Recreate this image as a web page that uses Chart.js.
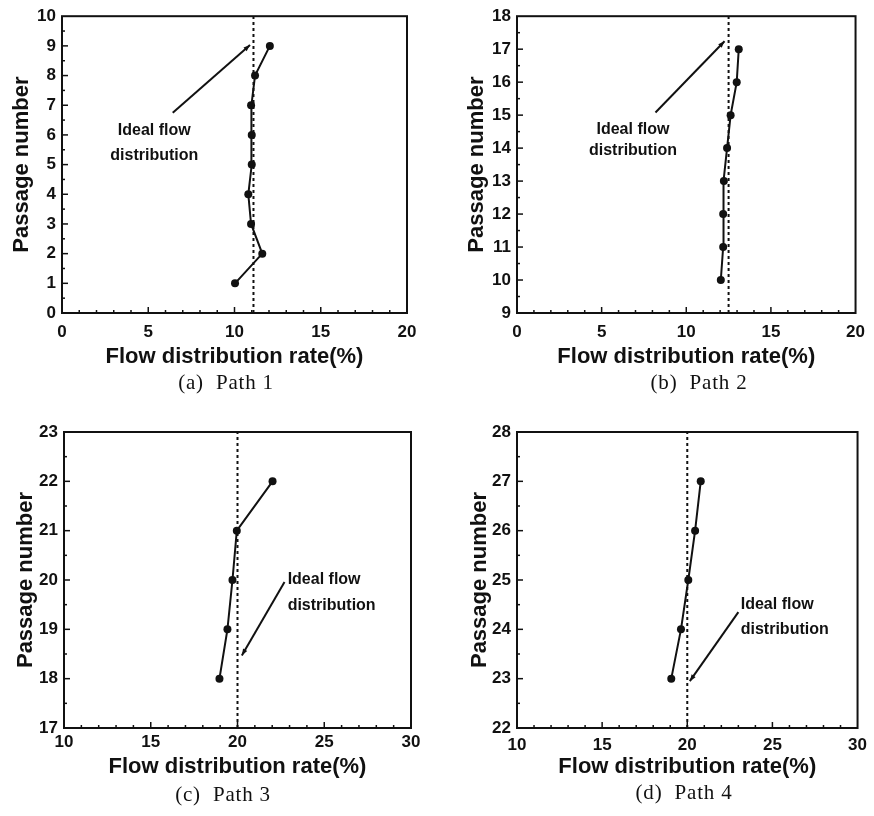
<!DOCTYPE html>
<html>
<head>
<meta charset="utf-8">
<script src="https://cdn.jsdelivr.net/npm/chart.js@4.4.0/dist/chart.umd.min.js"></script>
<style>
  body { margin:0; background:#fff; width:874px; height:816px; position:relative; overflow:hidden; }
  canvas { position:absolute; }
  .cap { position:absolute; transform:translate(-50%,-50%); white-space:pre; color:#111;
         font-family:'Liberation Serif','DejaVu Serif',serif; font-size:21px; letter-spacing:0.8px; }
</style>
</head>
<body>
<canvas id="cA" width="437" height="372" style="left:0;top:0"></canvas>
<canvas id="cB" width="419" height="372" style="left:455px;top:0"></canvas>
<canvas id="cC" width="437" height="367" style="left:0;top:415px"></canvas>
<canvas id="cD" width="419" height="367" style="left:455px;top:415px"></canvas>
<div class="cap" style="left:226px;top:382px">(a)  Path 1</div>
<div class="cap" style="left:699px;top:382px">(b)  Path 2</div>
<div class="cap" style="left:223px;top:794px">(c)  Path 3</div>
<div class="cap" style="left:684px;top:792px">(d)  Path 4</div>
<script>
// ========== DATA ==========
const passagesA = [1, 2, 3, 4, 5, 6, 7, 8, 9];
const ratesA    = [10.03, 11.61, 10.96, 10.8, 11.0, 11.0, 10.96, 11.19, 12.05];
const passagesB = [10, 11, 12, 13, 14, 15, 16, 17];
const ratesB    = [12.04, 12.18, 12.18, 12.22, 12.41, 12.62, 12.98, 13.1];
const passagesC = [18, 19, 20, 21, 22];
const ratesC    = [18.96, 19.42, 19.71, 19.96, 22.02];
const passagesD = [23, 24, 25, 26, 27];
const ratesD    = [19.06, 19.63, 20.06, 20.46, 20.79];
const idealRates = [11.1, 12.5, 20, 20];   // dashed "ideal flow distribution" line per path

// tick labels
const xTicksAB = [0, 5, 10, 15, 20];
const xTicksCD = [10, 15, 20, 25, 30];
const yTicksA = [0, 1, 2, 3, 4, 5, 6, 7, 8, 9, 10];
const yTicksB = [9, 10, 11, 12, 13, 14, 15, 16, 17, 18];
const yTicksC = [17, 18, 19, 20, 21, 22, 23];
const yTicksD = [22, 23, 24, 25, 26, 27, 28];

// callout arrows in data units: [tailX, tailY, headX, headY]
const arrowA = [6.42, 6.75, 10.9, 9.03];
const arrowB = [8.18, 15.08, 12.26, 17.24];
const arrowC = [22.71, 19.96, 20.25, 18.47];
const arrowD = [23.0, 24.35, 20.15, 22.95];

const LABEL_LINES = ['Ideal flow', 'distribution'];

// ========== STYLE ==========
const INK = '#111';
const SANS = '"Liberation Sans", Arial, sans-serif';

// frame, inward ticks, arrowhead and callout text
const decor = {
  id: 'decor',
  afterDatasetsDraw(chart, args, o) {
    const {ctx, chartArea: a, scales: {x, y}} = chart;
    ctx.save();
    ctx.strokeStyle = INK;
    ctx.lineWidth = 2;
    ctx.strokeRect(a.left, a.top, a.right - a.left, a.bottom - a.top);
    ctx.lineWidth = 1.5;
    const isMajor = (v, step) => Math.abs(v / step - Math.round(v / step)) < 1e-6;
    for (let v = x.min; v <= x.max + 1e-9; v += 1) {
      if (v === x.min || v === x.max) continue;
      const px = x.getPixelForValue(v), len = isMajor(v, 5) ? 6 : 3;
      ctx.beginPath(); ctx.moveTo(px, a.bottom); ctx.lineTo(px, a.bottom - len); ctx.stroke();
    }
    for (let v = y.min; v <= y.max + 1e-9; v += 0.5) {
      if (v === y.min || v === y.max) continue;
      const py = y.getPixelForValue(v), len = isMajor(v, 1) ? 6 : 3;
      ctx.beginPath(); ctx.moveTo(a.left, py); ctx.lineTo(a.left + len, py); ctx.stroke();
    }
    // arrowhead
    const [tx, ty, hx, hy] = o.arrow;
    const x0 = x.getPixelForValue(tx), y0 = y.getPixelForValue(ty);
    const x1 = x.getPixelForValue(hx), y1 = y.getPixelForValue(hy);
    const ang = Math.atan2(y1 - y0, x1 - x0);
    ctx.fillStyle = INK;
    ctx.beginPath();
    ctx.moveTo(x1, y1);
    ctx.lineTo(x1 - 7 * Math.cos(ang - 0.35), y1 - 7 * Math.sin(ang - 0.35));
    ctx.lineTo(x1 - 7 * Math.cos(ang + 0.35), y1 - 7 * Math.sin(ang + 0.35));
    ctx.closePath(); ctx.fill();
    // label
    ctx.font = 'bold 16px ' + SANS;
    ctx.textAlign = o.align;
    ctx.textBaseline = 'middle';
    LABEL_LINES.forEach((t, i) => {
      ctx.fillText(t, x.getPixelForValue(o.label[0]), y.getPixelForValue(o.label[i + 1]));
    });
    ctx.restore();
  }
};

function makePanel(id, p) {
  const pts = p.rates.map((r, i) => ({x: r, y: p.passages[i]}));
  const yMin = p.yTicks[0], yMax = p.yTicks[p.yTicks.length - 1];
  new Chart(document.getElementById(id), {
    type: 'scatter',
    data: {
      datasets: [
        { data: [{x: p.ideal, y: yMin}, {x: p.ideal, y: yMax}], showLine: true,
          borderColor: INK, borderWidth: 2, borderDash: [3, 3], pointRadius: 0 },
        { data: [{x: p.arrow[0], y: p.arrow[1]}, {x: p.arrow[2], y: p.arrow[3]}], showLine: true,
          borderColor: INK, borderWidth: 2, pointRadius: 0 },
        { data: pts, showLine: true, borderColor: INK, borderWidth: 2,
          pointRadius: 4, pointBackgroundColor: INK, pointBorderColor: INK, pointBorderWidth: 0 }
      ]
    },
    options: {
      responsive: false,
      animation: false,
      devicePixelRatio: 1,
      layout: { padding: { top: p.padTop, right: p.padRight, left: 0, bottom: 0 } },
      plugins: {
        legend: { display: false },
        tooltip: { enabled: false },
        decor: { arrow: p.arrow, label: p.label, align: p.align }
      },
      scales: {
        x: {
          type: 'linear', min: p.xTicks[0], max: p.xTicks[p.xTicks.length - 1],
          afterBuildTicks: s => { s.ticks = p.xTicks.map(v => ({value: v})); },
          afterFit: s => { s.height = p.xHeight; },
          grid: { display: false, drawTicks: false },
          border: { display: false },
          ticks: { color: INK, padding: p.xTickPad, font: { family: SANS, size: 17, weight: 'bold' } },
          title: { display: true, text: 'Flow distribution rate(%)', color: INK,
                   padding: { top: 0, bottom: 2 }, font: { family: SANS, size: 22, weight: 'bold' } }
        },
        y: {
          type: 'linear', min: yMin, max: yMax,
          afterBuildTicks: s => { s.ticks = p.yTicks.map(v => ({value: v})); },
          afterFit: s => { s.width = p.yWidth; },
          grid: { display: false, drawTicks: false },
          border: { display: false },
          ticks: { color: INK, padding: 6, font: { family: SANS, size: 17, weight: 'bold' } },
          title: { display: true, text: 'Passage number', color: INK,
                   padding: { top: p.yTitlePad, bottom: 0 }, font: { family: SANS, size: 22, weight: 'bold' } }
        }
      }
    },
    plugins: [decor]
  });
}

makePanel('cA', { passages: passagesA, rates: ratesA, ideal: idealRates[0], xTicks: xTicksAB, yTicks: yTicksA,
  arrow: arrowA, label: [5.35, 6.13, 5.3], align: 'center',
  padTop: 15, padRight: 30, yWidth: 62, xHeight: 59, xTickPad: 9, yTitlePad: 9 });
makePanel('cB', { passages: passagesB, rates: ratesB, ideal: idealRates[1], xTicks: xTicksAB, yTicks: yTicksB,
  arrow: arrowB, label: [6.85, 14.57, 13.92], align: 'center',
  padTop: 15, padRight: 10, yWidth: 62, xHeight: 59, xTickPad: 9, yTitlePad: 9 });
makePanel('cC', { passages: passagesC, rates: ratesC, ideal: idealRates[2], xTicks: xTicksCD, yTicks: yTicksC,
  arrow: arrowC, label: [22.89, 20.01, 19.49], align: 'left',
  padTop: 17, padRight: 26, yWidth: 64, xHeight: 54, xTickPad: 4, yTitlePad: 13 });
makePanel('cD', { passages: passagesD, rates: ratesD, ideal: idealRates[3], xTicks: xTicksCD, yTicks: yTicksD,
  arrow: arrowD, label: [23.14, 24.51, 24.0], align: 'left',
  padTop: 17, padRight: 10, yWidth: 62, xHeight: 54, xTickPad: 7, yTitlePad: 12 });
</script>
</body>
</html>
